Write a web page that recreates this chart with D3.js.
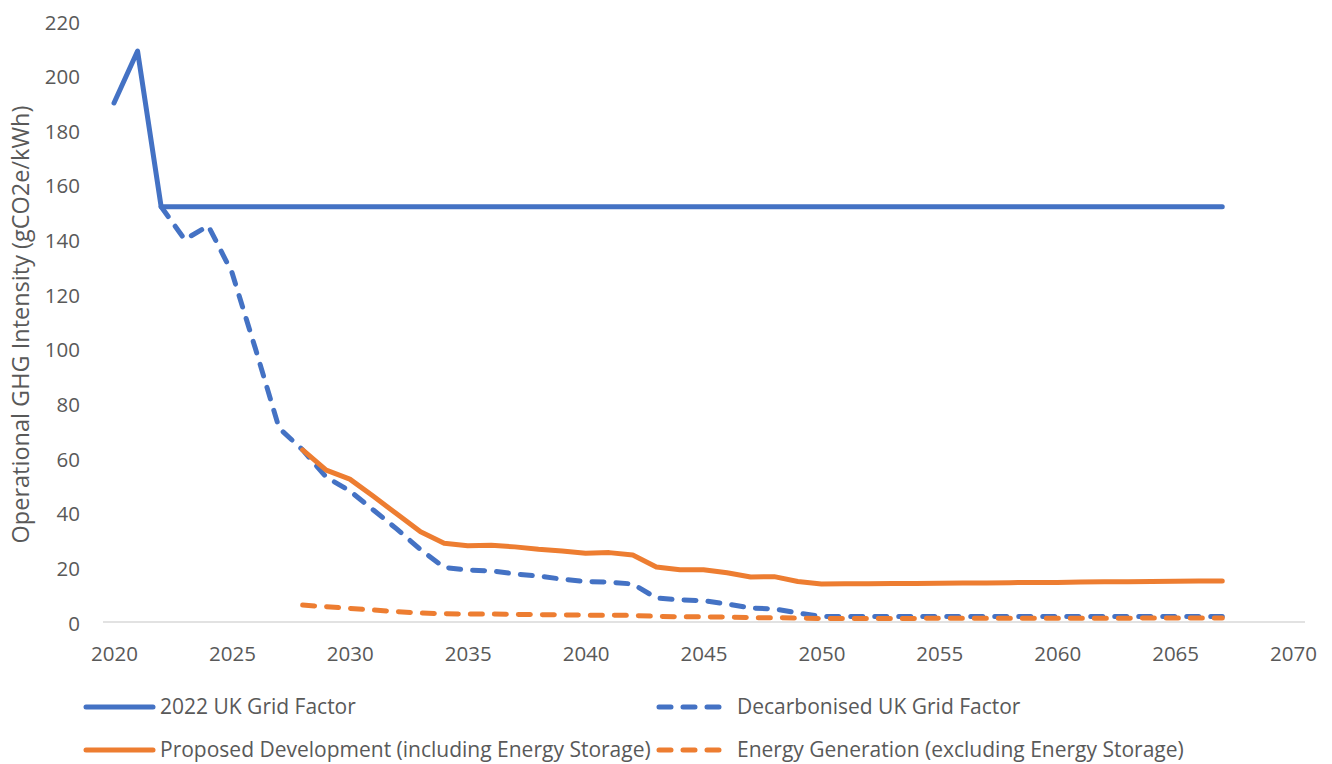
<!DOCTYPE html>
<html>
<head>
<meta charset="utf-8">
<script src="https://cdn.jsdelivr.net/npm/d3@7"></script>
<style>
  html, body { margin: 0; padding: 0; background: #fff; }
  svg { display: block; }
  text { font-family: "Open Sans", "Liberation Sans", sans-serif; fill: #595959; }
</style>
</head>
<body>
<svg id="chart" width="1332" height="764"></svg>
<script>
// ---- Data ----
const grid2022Years = d3.range(2020, 2068);
const grid2022 = [190, 209].concat(Array(46).fill(152));

const decarbYears = d3.range(2022, 2068);
const decarb = [152, 140, 145, 128, 100, 71, 63, 53, 48, 41, 34, 26.5, 20, 19, 18.7, 17.6, 16.8, 15.7, 14.8, 14.6, 13.9,
  8.8, 8.1, 7.8, 6.6, 5.1, 4.8, 3.3, 2.0, 2.0, 2.0, 2.0, 2.0, 2.0, 2.0, 2.0, 2.0, 2.0, 2.0, 2.0, 2.0, 2.0, 2.0, 2.0, 2.0, 2.0];

const devYears = d3.range(2028, 2068);
const proposedDev = [63, 55.6, 52.3, 46, 39.5, 33, 28.8, 27.9, 28.1, 27.5, 26.6, 26, 25.2, 25.4, 24.5, 20.1, 19.1, 19.1, 18, 16.5,
  16.6, 14.8, 13.9, 14.0, 14.0, 14.1, 14.1, 14.2, 14.3, 14.3, 14.4, 14.5, 14.5, 14.6, 14.7, 14.7, 14.8, 14.9, 15.0, 15.0];
const energyGen = [6.2, 5.6, 5.0, 4.4, 3.8, 3.3, 3.0, 2.9, 2.9, 2.8, 2.7, 2.6, 2.5, 2.5, 2.4, 2.1, 1.9, 1.9, 1.8, 1.6,
  1.6, 1.4, 1.3, 1.3, 1.3, 1.3, 1.3, 1.4, 1.4, 1.4, 1.4, 1.4, 1.4, 1.4, 1.4, 1.4, 1.5, 1.5, 1.5, 1.5];

const seriesNames = ["2022 UK Grid Factor", "Decarbonised UK Grid Factor",
  "Proposed Development (including Energy Storage)", "Energy Generation (excluding Energy Storage)"];
const xTicks = d3.range(2020, 2071, 5);
const yTicks = d3.range(0, 221, 20);
const yTitle = "Operational GHG Intensity (gCO2e/kWh)";

// ---- Layout ----
const BLUE = "#4472C4", ORANGE = "#ED7D31";
const svg = d3.select("#chart");
const x = d3.scaleLinear().domain([2020, 2070]).range([114, 1293]);
const y = d3.scaleLinear().domain([0, 220]).range([622, 21]);

// x axis line (extends slightly beyond the plot like the original)
svg.append("line")
  .attr("x1", 103).attr("x2", 1305).attr("y1", y(0)).attr("y2", y(0))
  .attr("stroke", "#D9D9D9").attr("stroke-width", 1.5);

// x tick labels
const xAxis = d3.axisBottom(x).tickValues(xTicks).tickFormat(d3.format("d")).tickSize(0).tickPadding(0);
const gx = svg.append("g").attr("transform", `translate(0,654)`).call(xAxis);
gx.select(".domain").remove();
gx.selectAll("text").attr("y", 0).attr("dy", "0.36em")
  .style("font-size", "20.5px").style("fill", "#595959").attr("font-family", null);

// y tick labels
const yAxis = d3.axisLeft(y).tickValues(yTicks).tickSize(0).tickPadding(0);
const gy = svg.append("g").attr("transform", `translate(80,1.5)`).call(yAxis);
gy.select(".domain").remove();
gy.selectAll("text").style("font-size", "20.5px").style("fill", "#595959").attr("font-family", null);

// y title
svg.append("text")
  .attr("transform", `translate(29,${(y(0) + y(220)) / 2 + 3}) rotate(-90)`)
  .attr("text-anchor", "middle")
  .style("font-size", "23.5px")
  .text(yTitle);

// lines
const line = d3.line().x(d => x(d[0])).y(d => y(d[1]));
const seriesData = [
  { years: grid2022Years, vals: grid2022, color: BLUE, dash: null },
  { years: decarbYears, vals: decarb, color: BLUE, dash: "12,12" },
  { years: devYears, vals: proposedDev, color: ORANGE, dash: null },
  { years: devYears, vals: energyGen, color: ORANGE, dash: "12,12" }
];
seriesData.forEach(s => {
  svg.append("path")
    .datum(s.years.map((yr, i) => [yr, s.vals[i]]))
    .attr("d", line)
    .attr("fill", "none")
    .attr("stroke", s.color)
    .attr("stroke-width", 5)
    .attr("stroke-linejoin", "round")
    .attr("stroke-linecap", "round")
    .attr("stroke-dasharray", s.dash);
});

// legend
const legendPos = [
  { lx: 86, tx: 160, cy: 707 },
  { lx: 659, tx: 737, cy: 707 },
  { lx: 86, tx: 160, cy: 750 },
  { lx: 659, tx: 737, cy: 750 }
];
seriesData.forEach((s, i) => {
  const p = legendPos[i];
  svg.append("line")
    .attr("x1", p.lx).attr("x2", s.dash ? p.lx + 60 : 153)
    .attr("y1", p.cy).attr("y2", p.cy)
    .attr("stroke", s.color).attr("stroke-width", 5)
    .attr("stroke-linecap", "round")
    .attr("stroke-dasharray", s.dash);
  svg.append("text")
    .attr("x", p.tx).attr("y", p.cy).attr("dy", "0.35em")
    .style("font-size", "21px")
    .text(seriesNames[i]);
});
</script>
</body>
</html>
